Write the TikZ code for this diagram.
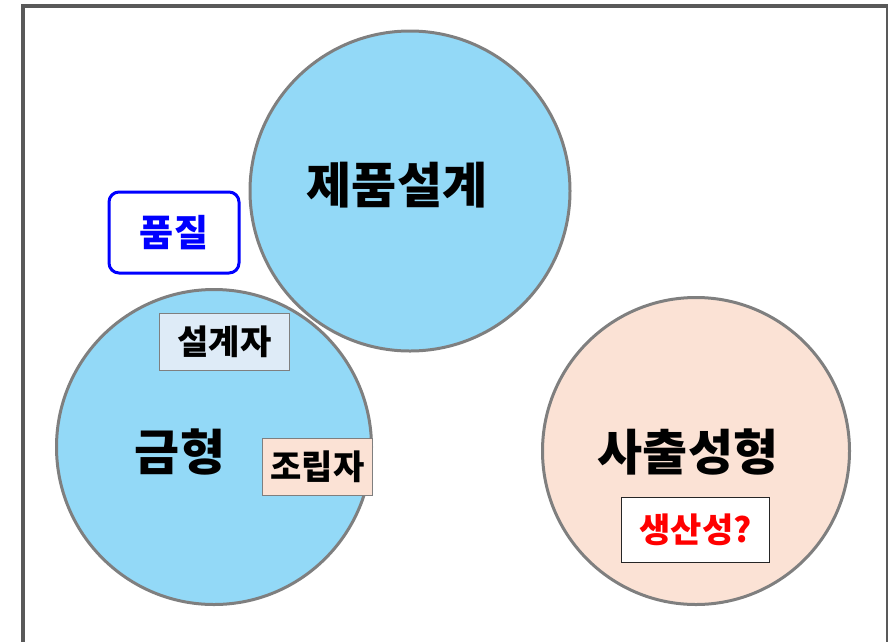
\documentclass[tikz,border=0pt]{standalone}
\usepackage{fontspec}
\newfontfamily\kr{Noto Sans CJK KR}
\definecolor{cblue}{HTML}{93D9F7}
\definecolor{cpink}{HTML}{FBE2D5}
\definecolor{cgrey}{HTML}{7F7F7F}
\definecolor{cframe}{HTML}{595959}
\definecolor{cbox}{HTML}{DEEBF7}
\tikzset{
  circ/.style={circle, draw=cgrey, line width=3pt, inner sep=0pt},
  bigtxt/.style={font=\kr\bfseries\fontsize{49}{52}\selectfont, text=black},
  tagbox/.style={draw=cgrey, line width=1.6pt, inner sep=0pt, font=\kr\bfseries\fontsize{34}{38}\selectfont, text=black},
}
\begin{document}
\begin{tikzpicture}[x=1pt,y=-1pt]
\useasboundingbox (0,0) rectangle (888,641);
\begin{scope}
\clip (0,0) rectangle (888,641);
\draw[cframe, line width=4pt] (23,650) -- (23,5.5) -- (888,5.5) -- (888,650);
\end{scope}
% circles
\node[circ, fill=cblue, minimum size=320pt] (prod) at (410,191) {};
\node[circ, fill=cblue, minimum size=315pt] (mold) at (214,447) {};
\node[circ, fill=cpink, minimum size=307pt] (inj) at (696,451) {};
% titles
\node[bigtxt] (tprod) at (397,185) {제품설계};
\node[bigtxt] (tmold) at (180,452) {금형};
\node[bigtxt] (tinj) at (688,452) {사출성형};
% quality box
\node[draw=blue, line width=3pt, rounded corners=10pt, fill=white, minimum width=130pt, minimum height=81pt, inner sep=0pt, text=blue, font=\kr\bfseries\fontsize{37}{40}\selectfont] (qual) at (174,232.5) {품질};
% small boxes
\node[tagbox, fill=cbox, minimum width=130pt, minimum height=57pt] (des) at (224.5,342) {설계자};
\node[tagbox, fill=cpink, minimum width=110pt, minimum height=57pt] (asm) at (317.5,467) {조립자};
\node[draw=black!85, line width=1.4pt, fill=white, minimum width=148pt, minimum height=65pt, inner sep=0pt, text=red, font=\kr\bfseries\fontsize{34}{37}\selectfont] (prodty) at (695.5,530) {생산성?};
\end{tikzpicture}
\end{document}
